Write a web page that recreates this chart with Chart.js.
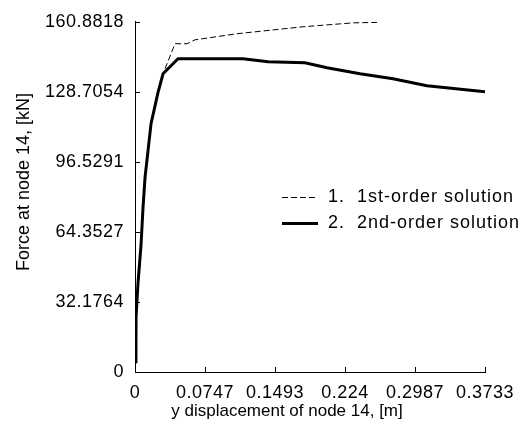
<!DOCTYPE html>
<html>
<head>
<meta charset="utf-8">
<script src="https://cdn.jsdelivr.net/npm/chart.js@4/dist/chart.umd.min.js"></script>
<style>
  body { margin: 0; background: #fff; }
  #wrap { width: 524px; height: 430px; }
</style>
</head>
<body>
<div id="wrap"><canvas id="chart" width="524" height="430"></canvas></div>
<script>
// y displacement [m] / force [kN]
const dispFirst = [0.001, 0.0011, 0.0032, 0.0064, 0.0085, 0.0107, 0.0139, 0.0171, 0.0245, 0.0299, 0.0427, 0.0555, 0.064, 0.1088, 0.1792, 0.2325, 0.2581];
const forceFirst = [4, 25.2, 40.8, 58.2, 75.2, 89.4, 101.7, 114.1, 128.3, 137.0, 150.8, 150.8, 152.6, 155.4, 158.6, 160.4, 160.6];

const dispSecond = [0.001, 0.0011, 0.0032, 0.0064, 0.0085, 0.0107, 0.0139, 0.0171, 0.0245, 0.0299, 0.0459, 0.1152, 0.1419, 0.1813, 0.2048, 0.24, 0.2752, 0.3114, 0.3733];
const forceSecond = [4, 25.2, 40.8, 58.2, 75.2, 89.4, 101.7, 114.1, 128.3, 137.0, 143.9, 143.9, 142.5, 142.1, 139.8, 137.0, 134.7, 131.5, 128.8];

const seriesLabels = ["1.  1st-order solution", "2.  2nd-order solution"];

const xTicks = [0, 0.0747, 0.1493, 0.224, 0.2987, 0.3733];
const xTickLabels = ["0", "0.0747", "0.1493", "0.224", "0.2987", "0.3733"];
const yTicks = [0, 32.1764, 64.3527, 96.5291, 128.7054, 160.8818];
const yTickLabels = ["0", "32.1764", "64.3527", "96.5291", "128.7054", "160.8818"];

const xTitle = "y displacement of node 14, [m]";
const yTitle = "Force at node 14, [kN]";

const FONT = "Liberation Sans, Arial, sans-serif";

function toPoints(xs, ys) {
    return xs.map((x, i) => ({ x: x, y: ys[i] }));
}

// small tick marks pointing into the plot, titles and legend
const extras = {
    id: 'extras',
    beforeDraw(chart) {
        // the original font is a little wider than Arial
        chart.ctx.letterSpacing = '0.5px';
    },
    afterDraw(chart) {
        const ctx = chart.ctx;
        const xs = chart.scales.x, ys = chart.scales.y;
        const area = chart.chartArea;
        ctx.save();
        ctx.strokeStyle = '#000';
        ctx.lineWidth = 1;
        ctx.beginPath();
        xTicks.forEach(v => {
            const px = Math.round(xs.getPixelForValue(v)) + 0.5;
            ctx.moveTo(px, area.bottom);
            ctx.lineTo(px, area.bottom - 5);
        });
        yTicks.forEach(v => {
            const py = Math.round(ys.getPixelForValue(v)) + 0.5;
            ctx.moveTo(area.left, py);
            ctx.lineTo(area.left + 5, py);
        });
        ctx.stroke();

        // axis titles
        ctx.letterSpacing = '0px';
        ctx.fillStyle = '#000';
        ctx.font = '17px ' + FONT;
        ctx.textAlign = 'center';
        ctx.textBaseline = 'middle';
        ctx.fillText(xTitle, 287, 411);
        ctx.translate(24, 182);
        ctx.rotate(-Math.PI / 2);
        ctx.font = '18px ' + FONT;
        ctx.fillText(yTitle, 0, 0);
        ctx.restore();

        // legend
        ctx.save();
        ctx.letterSpacing = '1px';
        ctx.font = '18px ' + FONT;
        ctx.textAlign = 'left';
        ctx.textBaseline = 'middle';
        ctx.fillStyle = '#000';
        chart.data.datasets.forEach((ds, i) => {
            const y = 197 + i * 26;
            ctx.strokeStyle = ds.borderColor;
            ctx.lineWidth = ds.borderWidth;
            ctx.setLineDash(ds.borderDash || []);
            ctx.beginPath();
            ctx.moveTo(282, y + 0.5);
            ctx.lineTo(318, y + 0.5);
            ctx.stroke();
            ctx.fillText(ds.label, 328, y);
        });
        ctx.restore();
    }
};

new Chart(document.getElementById('chart'), {
    type: 'scatter',
    data: {
        datasets: [{
            label: seriesLabels[0],
            data: toPoints(dispFirst, forceFirst),
            showLine: true,
            borderColor: '#000',
            borderWidth: 1,
            borderDash: [6, 3],
            pointRadius: 0,
            tension: 0
        }, {
            label: seriesLabels[1],
            data: toPoints(dispSecond, forceSecond),
            showLine: true,
            borderColor: '#000',
            borderWidth: 3,
            pointRadius: 0,
            tension: 0
        }]
    },
    options: {
        responsive: false,
        animation: false,
        layout: { padding: { top: 21, right: 39, left: 0, bottom: 0 } },
        plugins: {
            legend: { display: false },
            tooltip: { enabled: false }
        },
        scales: {
            x: {
                type: 'linear',
                min: 0,
                max: 0.3733,
                afterBuildTicks: s => { s.ticks = xTicks.map(v => ({ value: v })); },
                afterFit: s => { s.height = 58; },
                grid: { display: false, drawTicks: false },
                border: { display: true, color: '#000', width: 1 },
                ticks: {
                    color: '#000',
                    padding: 10,
                    maxRotation: 0,
                    autoSkip: false,
                    font: { family: FONT, size: 18 },
                    callback: (v, i) => xTickLabels[i]
                }
            },
            y: {
                type: 'linear',
                min: 0,
                max: 160.8818,
                afterBuildTicks: s => { s.ticks = yTicks.map(v => ({ value: v })); },
                afterFit: s => { s.width = 135; },
                grid: { display: false, drawTicks: false },
                border: { display: true, color: '#000', width: 1 },
                ticks: {
                    color: '#000',
                    padding: 11,
                    autoSkip: false,
                    font: { family: FONT, size: 18 },
                    callback: (v, i) => yTickLabels[i]
                }
            }
        }
    },
    plugins: [extras]
});
</script>
</body>
</html>
